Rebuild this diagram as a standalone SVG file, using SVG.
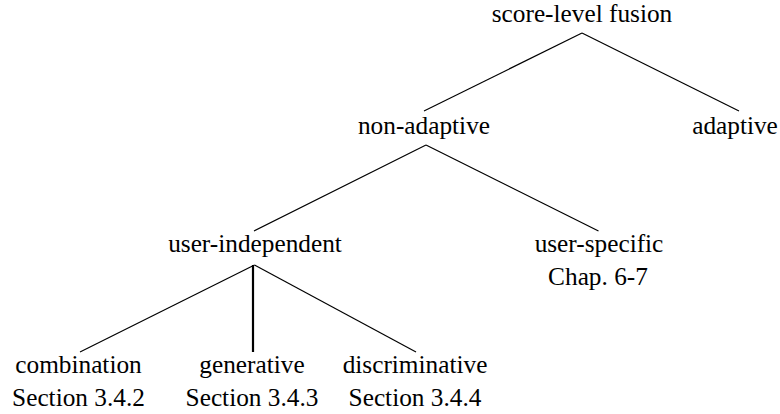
<svg xmlns="http://www.w3.org/2000/svg" width="780" height="414" viewBox="0 0 780 414">
<style>
.e{stroke:#000;stroke-width:1.2;fill:none}
.v{stroke:#000;stroke-width:2.2;fill:none}
</style>
<rect width="780" height="414" fill="#fff"/>
<g id="connectors">
<line class="e" x1="582" y1="33" x2="424" y2="111"/>
<line class="e" x1="582" y1="33" x2="739" y2="111"/>
<line class="e" x1="426" y1="145" x2="254" y2="231"/>
<line class="e" x1="426" y1="145" x2="598.5" y2="231"/>
<line class="e" x1="254.5" y1="265" x2="80" y2="352"/>
<line class="v" x1="253" y1="265" x2="253" y2="352"/>
<line class="e" x1="254.5" y1="265" x2="416" y2="352"/>
</g>
<g id="root"><text x="582" y="21.5" font-family="Liberation Serif" font-size="25.3" text-anchor="middle">score-level fusion</text></g>
<g id="non-adaptive"><text x="424" y="133.5" font-family="Liberation Serif" font-size="25.3" text-anchor="middle">non-adaptive</text></g>
<g id="adaptive"><text x="735" y="133.5" font-family="Liberation Serif" font-size="25.3" text-anchor="middle">adaptive</text></g>
<g id="user-independent"><text x="255" y="251.5" font-family="Liberation Serif" font-size="25.3" text-anchor="middle">user-independent</text></g>
<g id="user-specific"><text x="599" y="251.5" font-family="Liberation Serif" font-size="25.3" text-anchor="middle">user-specific</text><text x="598" y="284.5" font-family="Liberation Serif" font-size="25.3" text-anchor="middle">Chap. 6-7</text></g>
<g id="combination"><text x="78.5" y="372.5" font-family="Liberation Serif" font-size="25.3" text-anchor="middle">combination</text><text x="78.5" y="406" font-family="Liberation Serif" font-size="25.3" text-anchor="middle">Section 3.4.2</text></g>
<g id="generative"><text x="252" y="372.5" font-family="Liberation Serif" font-size="25.3" text-anchor="middle">generative</text><text x="252" y="406" font-family="Liberation Serif" font-size="25.3" text-anchor="middle">Section 3.4.3</text></g>
<g id="discriminative"><text x="415" y="372.5" font-family="Liberation Serif" font-size="25.3" text-anchor="middle">discriminative</text><text x="415" y="406" font-family="Liberation Serif" font-size="25.3" text-anchor="middle">Section 3.4.4</text></g>
</svg>
